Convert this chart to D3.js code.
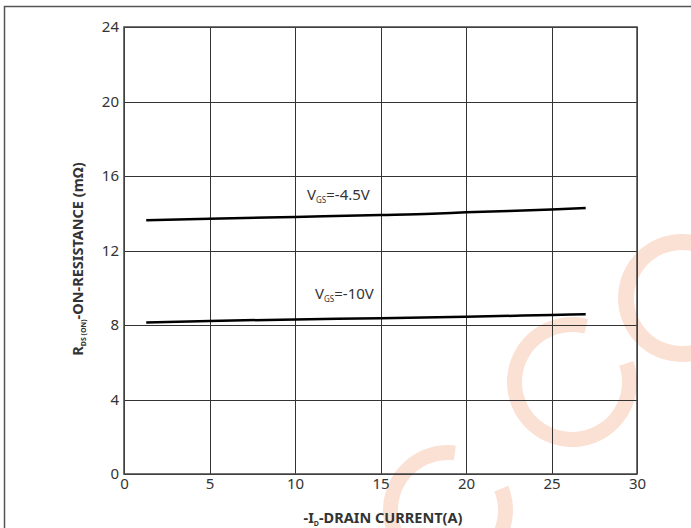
<!DOCTYPE html>
<html lang="en">
<head>
  <meta charset="UTF-8">
  <title>Rds(on) vs Id</title>
  <script src="https://cdn.jsdelivr.net/npm/d3@7/dist/d3.min.js"></script>
  <style>
    body { margin: 0; background: #fff; }
    svg { display: block; }
    .grid line { stroke: #333; stroke-width: 1; shape-rendering: crispEdges; }
    .grid path { display: none; }
    .grid text { font-family: "Noto Sans", sans-serif; font-size: 15px; fill: #333; }
    .title { font-family: "Noto Sans", sans-serif; font-weight: bold; font-size: 14.5px; fill: #333; }
    .lbl { font-family: "Noto Sans", sans-serif; font-size: 15px; fill: #333; }
  </style>
</head>
<body>
<script>
// data
var xTicks = [0, 5, 10, 15, 20, 25, 30];
var yTicks = [0, 4, 8, 12, 16, 20, 24];

var id45 = [1.3, 5, 10, 15, 18, 20, 25, 27];
var r45  = [13.62, 13.7, 13.8, 13.9, 13.97, 14.05, 14.2, 14.28];

var id10 = [1.3, 5, 10, 15, 20, 25, 27];
var r10  = [8.14, 8.22, 8.3, 8.36, 8.44, 8.54, 8.58];

var w = 691, h = 528;
var mLeft = 124, mRight = 637, mTop = 27, mBottom = 474;

var svg = d3.select("body").append("svg")
  .attr("width", w)
  .attr("height", h);

// watermark arcs (light orange C shapes), under everything
var wm = svg.append("g").attr("fill", "#fbe0d4");
var arc = d3.arc();
wm.append("path")
  .attr("transform", "translate(572,382)")
  .attr("d", arc({innerRadius: 50, outerRadius: 65, startAngle: 1.24, endAngle: 2 * Math.PI + 0.25}));
wm.append("path")
  .attr("transform", "translate(682,298)")
  .attr("d", arc({innerRadius: 48, outerRadius: 64, startAngle: Math.PI * 0.6, endAngle: 2 * Math.PI + 0.3}));
wm.append("path")
  .attr("transform", "translate(448,510)")
  .attr("d", arc({innerRadius: 50, outerRadius: 65, startAngle: 1.19, endAngle: 2 * Math.PI + 0.12}));

// page frame
svg.append("rect")
  .attr("x", 4.5).attr("y", 6.5)
  .attr("width", w + 10).attr("height", h + 10)
  .attr("fill", "none")
  .attr("stroke", "#555")
  .attr("stroke-width", 1.5);

var x = d3.scaleLinear().domain([0, 30]).range([mLeft, mRight]);
var y = d3.scaleLinear().domain([0, 24]).range([mBottom, mTop]);

// grid via axes
svg.append("g")
  .attr("class", "grid")
  .attr("transform", "translate(0," + mBottom + ")")
  .call(d3.axisBottom(x).tickValues(xTicks).tickSize(-(mBottom - mTop)).tickPadding(4));

svg.append("g")
  .attr("class", "grid")
  .attr("transform", "translate(" + mLeft + ",0)")
  .call(d3.axisLeft(y).tickValues(yTicks).tickSize(-(mRight - mLeft)).tickPadding(5));

// plot frame
svg.append("rect")
  .attr("x", mLeft).attr("y", mTop)
  .attr("width", mRight - mLeft).attr("height", mBottom - mTop)
  .attr("fill", "none")
  .attr("stroke", "#444")
  .attr("stroke-width", 1.5);

// curves
var line = d3.line()
  .x(function(d) { return x(d[0]); })
  .y(function(d) { return y(d[1]); })
  .curve(d3.curveMonotoneX);

svg.append("path")
  .datum(d3.zip(id45, r45))
  .attr("d", line)
  .attr("fill", "none")
  .attr("stroke", "#000")
  .attr("stroke-width", 2.5);

svg.append("path")
  .datum(d3.zip(id10, r10))
  .attr("d", line)
  .attr("fill", "none")
  .attr("stroke", "#000")
  .attr("stroke-width", 2.5);

// curve labels
function vgs(px, py, val) {
  var t = svg.append("text").attr("class", "lbl").attr("x", px).attr("y", py);
  t.append("tspan").text("V");
  t.append("tspan").attr("font-size", "8px").attr("dy", 3).text("GS");
  t.append("tspan").attr("dy", -3).text("=" + val);
}
vgs(307, 200, "-4.5V");
vgs(315, 299, "-10V");

// axis titles
var xt = svg.append("text").attr("class", "title")
  .attr("x", 383).attr("y", 523)
  .attr("text-anchor", "middle");
xt.append("tspan").text("-I");
xt.append("tspan").attr("font-size", "7px").attr("dy", 3).text("D");
xt.append("tspan").attr("dy", -3).text("-DRAIN CURRENT(A)");

var yt = svg.append("text").attr("class", "title")
  .attr("transform", "translate(83,259) rotate(-90)")
  .attr("text-anchor", "middle");
yt.append("tspan").text("R");
yt.append("tspan").attr("font-size", "7px").attr("dy", 3).text("DS (ON)");
yt.append("tspan").attr("dy", -3).text("-ON-RESISTANCE (m\u03A9)");
</script>
</body>
</html>
